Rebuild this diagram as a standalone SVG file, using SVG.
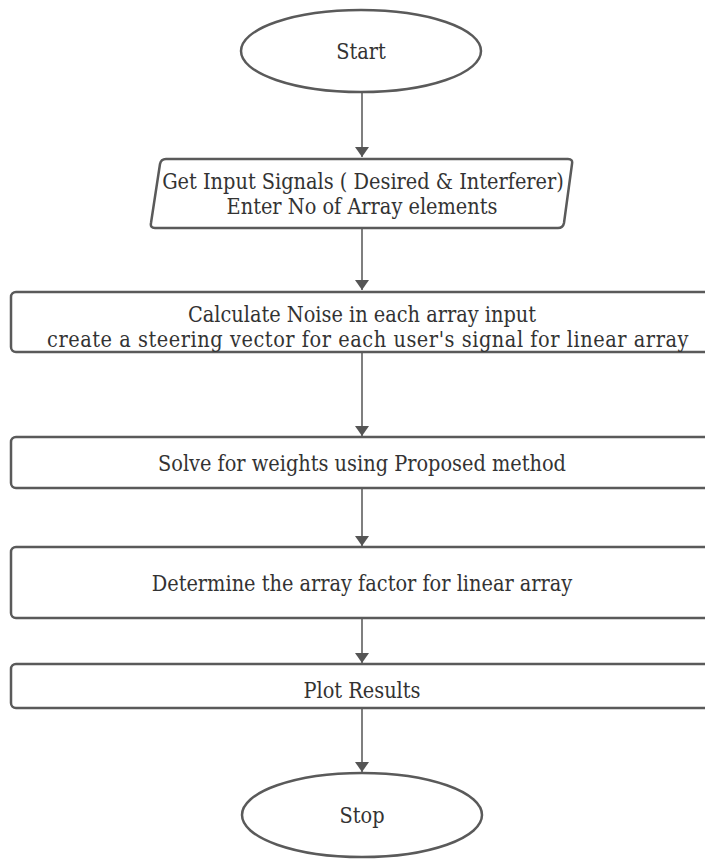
<svg xmlns="http://www.w3.org/2000/svg" width="705" height="861" viewBox="0 0 705 861">
<style>
.n{fill:#fff;stroke:#5a5a5a;stroke-width:2.5}
.t{font-family:"DejaVu Serif Condensed","DejaVu Serif",serif;font-stretch:condensed;font-size:21.5px;fill:#333;text-anchor:middle}
.c{stroke:#555;stroke-width:1.5;fill:none}
</style>
<defs>
<marker id="a" markerWidth="10" markerHeight="14" refX="10" refY="7" orient="auto" markerUnits="userSpaceOnUse">
<path d="M0,0 L10,7 L0,14 Z" fill="#555"/>
</marker>
</defs>
<rect width="705" height="861" fill="#fff"/>
<g id="connectors">
<line class="c" x1="362" y1="92" x2="362" y2="157" marker-end="url(#a)"/>
<line class="c" x1="362" y1="228" x2="362" y2="290" marker-end="url(#a)"/>
<line class="c" x1="362" y1="352" x2="362" y2="436" marker-end="url(#a)"/>
<line class="c" x1="362" y1="488" x2="362" y2="546" marker-end="url(#a)"/>
<line class="c" x1="362" y1="618" x2="362" y2="663" marker-end="url(#a)"/>
<line class="c" x1="362" y1="708" x2="362" y2="772" marker-end="url(#a)"/>
</g>
<g id="start">
<ellipse class="n" cx="361" cy="51" rx="120" ry="41"/>
<text class="t" x="361" y="59">Start</text>
</g>
<g id="input">
<path class="n" d="M170,159 L568,159 Q573,159 572,164 L564,223 Q563,228 558,228 L155,228 Q150,228 151,223 L160,164 Q161,159 166,159 Z"/>
<text class="t" x="363" y="189" font-size="20.8">Get Input Signals ( Desired &amp; Interferer)</text>
<text class="t" x="362" y="214">Enter No of Array elements</text>
</g>
<g id="noise">
<rect class="n" x="11" y="292" width="710" height="60" rx="5"/>
<text class="t" x="362" y="322">Calculate Noise in each array input</text>
<text class="t" x="368" y="347" letter-spacing="0.55">create a steering vector for each user's signal for linear array</text>
</g>
<g id="weights">
<rect class="n" x="11" y="437" width="710" height="51" rx="5"/>
<text class="t" x="362" y="471">Solve for weights using Proposed method</text>
</g>
<g id="arrayfactor">
<rect class="n" x="11" y="547" width="710" height="71" rx="5"/>
<text class="t" x="362" y="591">Determine the array factor for linear array</text>
</g>
<g id="plot">
<rect class="n" x="11" y="664" width="710" height="44" rx="5"/>
<text class="t" x="362" y="698">Plot Results</text>
</g>
<g id="stop">
<ellipse class="n" cx="362" cy="815" rx="120" ry="42"/>
<text class="t" x="362" y="823">Stop</text>
</g>
</svg>
